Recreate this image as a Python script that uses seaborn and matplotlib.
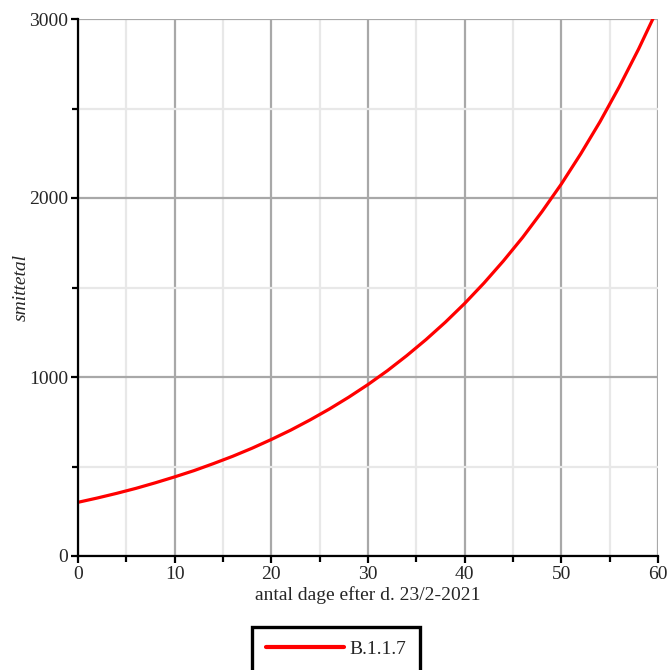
import numpy as np
import pandas as pd
import matplotlib
matplotlib.use("Agg")
import matplotlib.pyplot as plt
import seaborn as sns
from matplotlib.ticker import MultipleLocator

# data
days = [0, 2, 4, 6, 8, 10, 12, 14, 16, 18, 20, 22, 24, 26, 28, 30,
        32, 34, 36, 38, 40, 42, 44, 46, 48, 50, 52, 54, 56, 58, 60]
cases = [300, 324, 350, 378, 409, 442, 477, 516, 557, 602, 651, 703, 760, 821, 887, 958,
         1035, 1119, 1209, 1306, 1411, 1525, 1648, 1780, 1924, 2078, 2246, 2426, 2622, 2833, 3061]
variant = "B.1.1.7"
x_label = "antal dage efter d. 23/2-2021"
y_label = "smittetal"

df = pd.DataFrame({"dag": days, "smittetal": cases, "variant": variant})

sns.set_style("white")
plt.rcParams['font.family'] = ['Liberation Serif', 'DejaVu Serif']

fig = plt.figure(figsize=(6.68, 6.70), dpi=100)
ax = fig.add_axes([78 / 668, 1 - 556 / 670, 580 / 668, 537 / 670])

sns.lineplot(data=df, x="dag", y="smittetal", hue="variant", palette=["#ff0000"],
             linewidth=2.3, ax=ax, legend=False, clip_on=True)

ax.set_xlim(0, 60)
ax.set_ylim(0, 3000)
ax.xaxis.set_major_locator(MultipleLocator(10))
ax.xaxis.set_minor_locator(MultipleLocator(5))
ax.yaxis.set_major_locator(MultipleLocator(1000))
ax.yaxis.set_minor_locator(MultipleLocator(500))

ax.grid(which="major", color="#a8a8a8", linewidth=1.6)
ax.grid(which="minor", color="#e8e8e8", linewidth=1.6)
ax.set_axisbelow(True)

for s in ["top", "right"]:
    ax.spines[s].set_visible(False)
for s in ["left", "bottom"]:
    ax.spines[s].set_color("black")
    ax.spines[s].set_linewidth(1.6)
    ax.spines[s].set_zorder(5)

ax.tick_params(which="major", direction="out", length=5, width=1.6, color="black",
               labelsize=14, pad=2, bottom=True, left=True)
ax.tick_params(which="minor", direction="out", length=4, width=1.6, color="black",
               bottom=True, left=True)

ax.set_xlabel(x_label, fontsize=14)
ax.xaxis.set_label_coords(0.5, -0.056)
ax.set_ylabel(y_label, fontsize=14, style="italic")
ax.yaxis.set_label_coords(-0.083, 0.5)

handle = plt.Line2D([], [], color="#ff0000", linewidth=3)
leg = fig.legend([handle], [variant], loc="upper center",
                 bbox_to_anchor=(336 / 668, 1 - 627 / 670), frameon=True, framealpha=1,
                 fancybox=False, fontsize=14, handlelength=4.0, handletextpad=0.3,
                 borderpad=0.7, borderaxespad=0)
leg.get_frame().set_edgecolor("black")
leg.get_frame().set_linewidth(2.4)

fig.savefig("out.png", dpi=100)
plt.close(fig)
